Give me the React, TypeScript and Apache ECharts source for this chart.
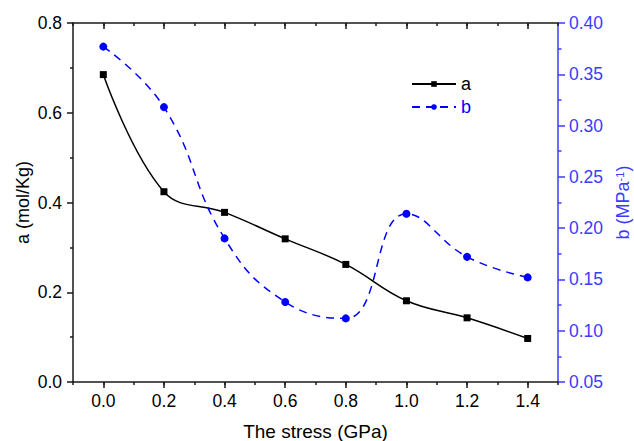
import React, { useEffect, useRef } from "react";
import * as echarts from "echarts";

const stress = [0.0, 0.2, 0.4, 0.6, 0.8, 1.0, 1.2, 1.4];
const aValues = [0.685, 0.424, 0.378, 0.319, 0.262, 0.181, 0.143, 0.097];
const bValues = [0.377, 0.318, 0.19, 0.128, 0.112, 0.214, 0.172, 0.152];
const xMajorTicks = [0.0, 0.2, 0.4, 0.6, 0.8, 1.0, 1.2, 1.4];

const FONT = "'Liberation Sans', Arial, sans-serif";
const BLACK = "#000000";
const AXIS_BLACK = "#1a1a1a";
const BLUE = "#0000ff";
const AXIS_BLUE = "#3b3bff";
const TICK_FONT = 17.5;

export default function App() {
  const ref = useRef<HTMLDivElement>(null);
  useEffect(() => {
    if (!ref.current) return;
    const chart = echarts.init(ref.current, undefined, { renderer: "svg" });
    const xBase = { type: "value", min: -0.1, max: 1.5, splitLine: { show: false } };
    chart.setOption({
      animation: false,
      backgroundColor: "#ffffff",
      textStyle: { fontFamily: FONT },
      grid: { left: 73, right: 76, top: 23, bottom: 59, containLabel: false, outerBoundsMode: "none" },
      legend: {
        orient: "vertical",
        left: 406,
        top: 70,
        itemWidth: 44,
        itemHeight: 7,
        itemGap: 5,
        textStyle: { fontFamily: FONT, fontSize: 18 },
        data: [
          { name: "a", textStyle: { color: BLACK } },
          { name: "b", textStyle: { color: BLUE } },
        ],
      },
      xAxis: [
        {
          ...xBase,
          position: "bottom",
          interval: 0.1,
          name: "The stress (GPa)",
          nameLocation: "middle",
          nameGap: 40,
          nameMoveOverlap: false,
          nameTextStyle: { fontFamily: FONT, fontSize: 19, color: BLACK },
          axisLine: { show: true, onZero: false, lineStyle: { color: AXIS_BLACK, width: 1.5 } },
          axisTick: { show: true, customValues: xMajorTicks, length: 6, inside: false, lineStyle: { color: AXIS_BLACK, width: 1.5 } },
          axisLabel: {
            customValues: xMajorTicks,
            formatter: (v: number) => v.toFixed(1),
            fontFamily: FONT,
            fontSize: TICK_FONT,
            color: BLACK,
            margin: 10,
          },
        },
        {
          ...xBase,
          position: "bottom",
          offset: 0,
          interval: 0.1,
          axisLine: { show: false, onZero: false },
          axisTick: { show: true, length: 3, inside: false, lineStyle: { color: AXIS_BLACK, width: 1.5 } },
          axisLabel: { show: false },
        },
        {
          ...xBase,
          position: "top",
          interval: 0.1,
          axisLine: { show: true, onZero: false, lineStyle: { color: AXIS_BLACK, width: 1.5 } },
          axisTick: { show: true, customValues: xMajorTicks, length: 6, inside: true, lineStyle: { color: AXIS_BLACK, width: 1.5 } },
          axisLabel: { show: false },
        },
        {
          ...xBase,
          position: "top",
          offset: 0,
          interval: 0.1,
          axisLine: { show: false, onZero: false },
          axisTick: { show: true, length: 3, inside: true, lineStyle: { color: AXIS_BLACK, width: 1.5 } },
          axisLabel: { show: false },
        },
      ],
      yAxis: [
        {
          type: "value",
          position: "left",
          min: 0,
          max: 0.8,
          interval: 0.2,
          name: "a (mol/Kg)",
          nameLocation: "middle",
          nameRotate: 90,
          nameGap: 41,
          nameMoveOverlap: false,
          nameTextStyle: { fontFamily: FONT, fontSize: 18, color: BLACK },
          splitLine: { show: false },
          axisLine: { show: true, onZero: false, lineStyle: { color: AXIS_BLACK, width: 1.5 } },
          axisTick: { show: true, length: 6, inside: false, lineStyle: { color: AXIS_BLACK, width: 1.5 } },
          minorTick: { show: true, splitNumber: 2, length: 3, lineStyle: { color: AXIS_BLACK, width: 1.5 } },
          axisLabel: { formatter: (v: number) => v.toFixed(1), fontFamily: FONT, fontSize: TICK_FONT, color: BLACK, margin: 11 },
        },
        {
          type: "value",
          position: "right",
          min: 0.05,
          max: 0.4,
          interval: 0.05,
          name: "b (MPa{sup|-1})",
          nameLocation: "middle",
          nameRotate: 90,
          nameGap: 56,
          nameMoveOverlap: false,
          nameTextStyle: {
            fontFamily: FONT,
            fontSize: 18,
            color: AXIS_BLUE,
            rich: {
              sup: { fontFamily: FONT, fontSize: 11, color: AXIS_BLUE, verticalAlign: "top", padding: [0, 0, 6, 0] },
            },
          },
          splitLine: { show: false },
          axisLine: { show: true, onZero: false, lineStyle: { color: AXIS_BLUE, width: 1.5 } },
          axisTick: { show: true, length: 7, inside: false, lineStyle: { color: AXIS_BLUE, width: 1.5 } },
          minorTick: { show: true, splitNumber: 2, length: 3.5, lineStyle: { color: AXIS_BLUE, width: 1.5 } },
          axisLabel: { formatter: (v: number) => v.toFixed(2), fontFamily: FONT, fontSize: TICK_FONT, color: AXIS_BLUE, margin: 11 },
        },
      ],
      series: [
        {
          name: "a",
          type: "line",
          xAxisIndex: 0,
          yAxisIndex: 0,
          data: stress.map((x, i) => [x, aValues[i]]),
          smooth: 0.4,
          symbol: "rect",
          symbolSize: 7,
          itemStyle: { color: BLACK },
          lineStyle: { color: BLACK, width: 1.5 },
        },
        {
          name: "b",
          type: "line",
          xAxisIndex: 0,
          yAxisIndex: 1,
          data: stress.map((x, i) => [x, bValues[i]]),
          smooth: 0.45,
          symbol: "circle",
          symbolSize: 8,
          itemStyle: { color: BLUE },
          lineStyle: { color: BLUE, width: 1.5, type: [8, 6] },
        },
      ],
    });
    return () => chart.dispose();
  }, []);
  return (
    <div
      ref={ref}
      style={{ position: "fixed", left: 0, top: 0, width: 634, height: 441, background: "#fff" }}
    />
  );
}
